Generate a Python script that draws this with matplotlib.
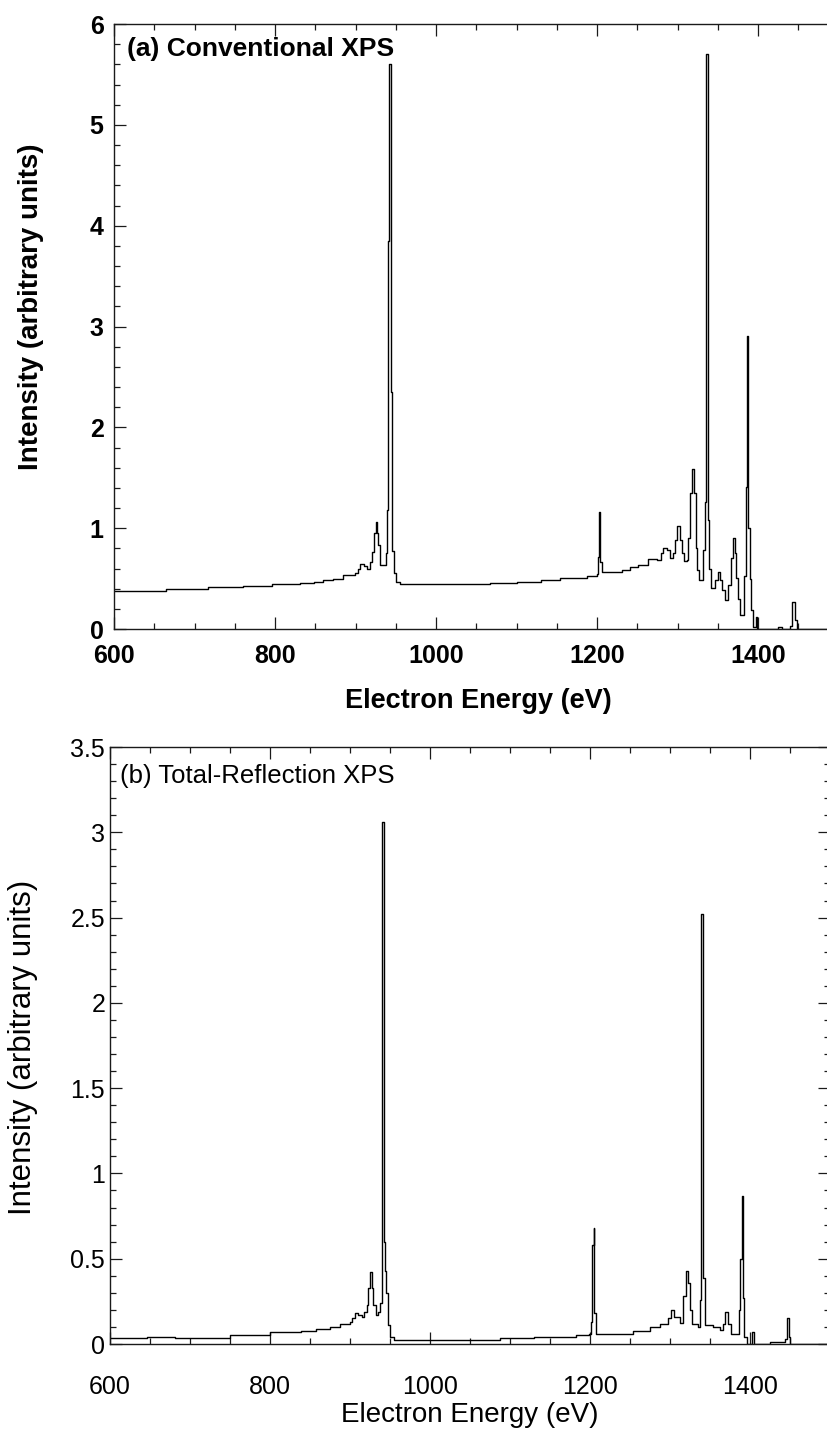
import matplotlib
matplotlib.use("Agg")
import matplotlib.pyplot as plt
from matplotlib.ticker import MultipleLocator

# ---- spectra (energy in eV, intensity in arbitrary units) ----
conv_energy = [
    600, 665, 717, 760, 796, 831, 848, 860, 872, 885, 899, 903, 905.6, 910,
    913.9, 918, 920, 923, 925.5, 927, 928.3, 930.4, 936.6, 938, 939.5, 940.5,
    941.5, 943.5, 945, 947.5, 950, 955, 1030, 1067, 1100, 1130, 1154, 1172.7,
    1187, 1199.6, 1201.6, 1202.9, 1204, 1205.8, 1220, 1230.6, 1241, 1251.3,
    1263.8, 1274, 1279, 1282.4, 1286.6, 1290.7, 1294, 1297, 1299.8, 1303,
    1306, 1308, 1311.4, 1313.5, 1315.5, 1317.5, 1320.5, 1322.5, 1323.8, 1327,
    1331.3, 1334.2, 1335.5, 1338, 1339.5, 1341.2, 1346.6, 1350.7, 1353, 1355,
    1359, 1363, 1366, 1368.6, 1371, 1372.7, 1375, 1377.6, 1382.6, 1384.7,
    1386, 1387.5, 1389.5, 1391, 1394.2, 1397.5, 1399, 1425, 1430, 1439.8,
    1442.5, 1445.5, 1448, 1500,
]
conv_intensity = [
    0.38, 0.397, 0.414, 0.43, 0.446, 0.46, 0.47, 0.486, 0.50, 0.536, 0.56, 0.60,
    0.645, 0.62, 0.60, 0.66, 0.76, 0.95, 1.06, 0.95, 0.83, 0.635, 0.635, 0.75,
    1.18, 3.85, 5.6, 2.35, 0.77, 0.555, 0.47, 0.446, 0.45, 0.46, 0.47, 0.485,
    0.503, 0.51, 0.53, 0.55, 0.71, 1.16, 0.66, 0.57, 0.57, 0.585, 0.615, 0.635,
    0.69, 0.685, 0.75, 0.80, 0.78, 0.70, 0.75, 0.88, 1.02, 0.88, 0.75, 0.67,
    0.685, 0.9, 1.35, 1.59, 1.35, 0.80, 0.585, 0.486, 0.78, 1.26, 5.7, 1.08,
    0.60, 0.41, 0.49, 0.57, 0.49, 0.39, 0.29, 0.44, 0.7, 0.90, 0.75, 0.51, 0.3,
    0.14, 0.53, 1.41, 2.91, 1.0, 0.5, 0.19, 0.02, 0.12, 0.0, 0.02, 0.0, 0.03,
    0.27, 0.09, 0.0, 0.0,
]

trxps_energy = [
    600, 646, 681, 750, 800, 839, 858, 875, 887.5, 900, 903, 906, 910, 915,
    918, 921, 923, 925, 927, 929, 932.5, 935, 937.5, 939.5, 940.5, 942.5,
    943.5, 945.5, 947, 950, 955, 1087, 1130, 1162, 1183, 1199, 1201.5, 1202.5,
    1204.5, 1205.5, 1207, 1237.5, 1254, 1275, 1287.5, 1298, 1301, 1305,
    1312.5, 1316, 1319.5, 1322.5, 1325.5, 1328, 1335, 1337, 1338.5, 1341,
    1344, 1354, 1362.5, 1366, 1369, 1373, 1376, 1386, 1387.5, 1389.5, 1391,
    1393, 1396, 1402.5, 1404.5, 1425, 1437, 1444, 1446.5, 1448.5, 1450, 1500,
]
trxps_intensity = [
    0.033, 0.043, 0.033, 0.053, 0.069, 0.078, 0.088, 0.10, 0.12, 0.13, 0.15,
    0.18, 0.17, 0.16, 0.19, 0.23, 0.33, 0.42, 0.33, 0.23, 0.17, 0.19, 0.24,
    0.75, 3.06, 0.6, 0.43, 0.3, 0.11, 0.043, 0.024, 0.035, 0.04, 0.043, 0.05,
    0.06, 0.13, 0.58, 0.68, 0.18, 0.06, 0.06, 0.075, 0.10, 0.12, 0.15, 0.2,
    0.16, 0.125, 0.28, 0.43, 0.36, 0.2, 0.12, 0.10, 0.26, 2.52, 0.385, 0.11,
    0.10, 0.08, 0.12, 0.19, 0.12, 0.06, 0.2, 0.50, 0.865, 0.27, 0.04, 0.0,
    0.07, 0.0, 0.01, 0.01, 0.03, 0.15, 0.04, 0.0, 0.0,
]

x_ticks = [600, 800, 1000, 1200, 1400]
trxps_yticks = [0, 0.5, 1, 1.5, 2, 2.5, 3, 3.5]
trxps_yticklabels = ["0", "0.5", "1", "1.5", "2", "2.5", "3", "3.5"]
conv_title = "(a) Conventional XPS"
trxps_title = "(b) Total-Reflection XPS"
x_label = "Electron Energy (eV)"
y_label = "Intensity (arbitrary units)"

FONT = "Liberation Sans"
W, H = 827, 1431
fig = plt.figure(figsize=(W / 100, H / 100), dpi=100)


def px_axes(left, top, right, bottom):
    """Axes placed by pixel edges (origin at the top-left of the figure)."""
    return fig.add_axes([left / W, 1 - bottom / H, (right - left) / W, (bottom - top) / H])


def style_axes(ax, weight, size, xpad, ypad, ymajor, yminor):
    ax.tick_params(which="both", direction="in", top=True, right=True,
                   color="#1a1a1a", width=0.9)
    ax.tick_params(which="major", length=8.5, labelsize=size)
    ax.tick_params(which="minor", length=4.3)
    ax.tick_params(axis="x", which="major", pad=xpad)
    ax.tick_params(axis="y", which="major", pad=ypad)
    ax.xaxis.set_major_locator(MultipleLocator(200))
    ax.xaxis.set_minor_locator(MultipleLocator(50))
    ax.yaxis.set_major_locator(MultipleLocator(ymajor))
    ax.yaxis.set_minor_locator(MultipleLocator(yminor))
    for sp in ax.spines.values():
        sp.set_linewidth(1.0)
        sp.set_color("#1a1a1a")
    for lab in ax.get_xticklabels() + ax.get_yticklabels():
        lab.set_family(FONT)
        lab.set_weight(weight)


# ---- (a) conventional XPS ----
ax1 = px_axes(114, 24, 838.5, 629)
ax1.plot(conv_energy, conv_intensity, drawstyle="steps-post", color="black", lw=1.0)
ax1.set_xlim(600, 1500)
ax1.set_ylim(0, 6)
ax1.set_xticks(x_ticks)
style_axes(ax1, "bold", 18, 10.5, 7.5, 1, 0.2)
ax1.set_xlabel(x_label, family=FONT, weight="bold", fontsize=19.5, va="center")
ax1.xaxis.set_label_coords((478 - 114) / 724.5, -(701 - 629) / 605)
ax1.set_ylabel(y_label, family=FONT, weight="bold", fontsize=20, va="center")
ax1.yaxis.set_label_coords(-(114 - 31) / 724.5, 1 - (307 - 24) / 605)
ax1.text((127 - 114) / 724.5, 1 - (37 - 24) / 605, conv_title, transform=ax1.transAxes,
         ha="left", va="top", family=FONT, weight="bold", fontsize=19)

# ---- (b) total-reflection XPS ----
ax2 = px_axes(110, 747, 830, 1344)
ax2.plot(trxps_energy, trxps_intensity, drawstyle="steps-post", color="black", lw=1.0)
ax2.set_xlim(600, 1500)
ax2.set_ylim(0, 3.5)
ax2.set_xticks(x_ticks)
ax2.set_yticks(trxps_yticks)
ax2.set_yticklabels(trxps_yticklabels)
style_axes(ax2, "normal", 18, 22, 3.5, 0.5, 0.1)
ax2.set_xlabel(x_label, family=FONT, fontsize=20, va="center")
ax2.xaxis.set_label_coords(0.5, -(1415 - 1344) / 597)
ax2.set_ylabel(y_label, family=FONT, fontsize=22.5, va="center")
ax2.yaxis.set_label_coords(-(110 - 23) / 720, 1 - (1047 - 747) / 597)
ax2.text((120 - 110) / 720, 1 - (764 - 747) / 597, trxps_title, transform=ax2.transAxes,
         ha="left", va="top", family=FONT, fontsize=18.5)

fig.savefig("out.png", dpi=100)
